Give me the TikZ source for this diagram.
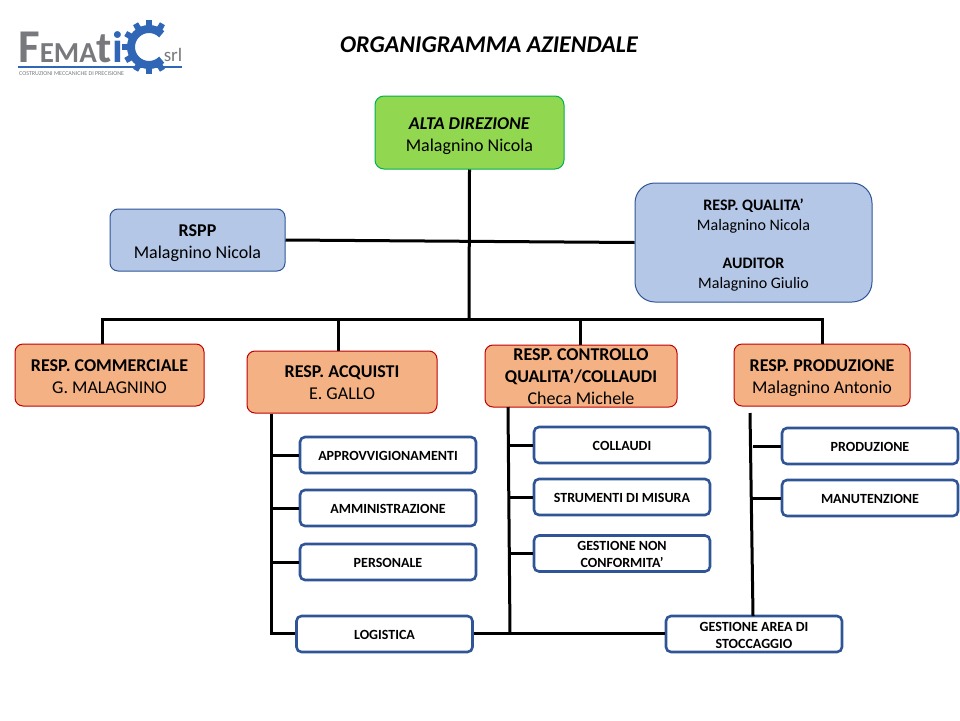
\documentclass[tikz,border=0pt]{standalone}
\usepackage{fontspec}
\setmainfont{Carlito}
\usepackage{tikz}
\usetikzlibrary{calc}
\definecolor{bluefill}{HTML}{B4C7E7}
\definecolor{blueline}{HTML}{2F5597}
\definecolor{orangefill}{HTML}{F4B183}
\definecolor{redline}{HTML}{C00000}
\definecolor{greenfill}{HTML}{92D750}
\definecolor{greenline}{HTML}{00B050}
\definecolor{logogrey}{HTML}{77797C}
\definecolor{logoblue}{HTML}{2F66B5}
\tikzset{
  lowered/.style={text height=#1, text depth=0pt},
  topbox/.style={draw=greenline, fill=greenfill, line width=1pt, rounded corners=9pt, align=center,
    minimum width=189pt, minimum height=73pt, inner sep=0pt, lowered=37pt, font=\fontsize{18}{22}\selectfont},
  staffbox/.style={draw=blueline, fill=bluefill, line width=1pt, align=center, inner sep=0pt},
  respbox/.style={draw=redline, fill=orangefill, line width=1pt, rounded corners=8pt, align=center,
    minimum height=62pt, inner sep=0pt, lowered=37pt, font=\fontsize{18}{22}\selectfont},
  taskbox/.style={draw=blueline, fill=white, line width=2.6pt, rounded corners=5pt, align=center,
    minimum width=176pt, minimum height=36pt, inner sep=0pt, lowered=11pt, font=\fontsize{14}{17}\selectfont\bfseries},
  conn/.style={draw=black, line width=3pt}
}
\begin{document}
\begin{tikzpicture}[x=1pt,y=-1pt]
  \useasboundingbox (0,0) rectangle (960,720);

  % Logo
  \node[font=\fontsize{47}{47}\selectfont\bfseries, text=logogrey, inner sep=0pt, anchor=base west] (logoname) at (18,62) {F\fontsize{29}{29}\selectfont EMA\fontsize{44}{44}\selectfont t\textcolor{logoblue}{i}};
  \coordinate (gearc) at (149,47);
  \foreach \a in {60,90,...,300}
    \fill[logoblue] ($(gearc)+(\a-9:20)$) -- ($(gearc)+(\a-6:27)$) -- ($(gearc)+(\a+6:27)$) -- ($(gearc)+(\a+9:20)$) -- cycle;
  \draw[logoblue, line width=8pt] ($(gearc)+(45:18)$) arc[start angle=45, end angle=315, radius=18];
  \node[font=\fontsize{19}{19}\selectfont, text=logogrey, inner sep=0pt] (logosrl) at (173,55) {srl};
  \draw[logoblue, line width=1.5pt] (18,67) -- (182,67);
  \node[font=\fontsize{6}{6}\selectfont, text=logogrey, inner sep=0pt, anchor=west] (logosub) at (19,74) {COSTRUZIONI MECCANICHE DI PRECISIONE};

  % Title
  \node[font=\fontsize{24}{28}\selectfont\bfseries\itshape, inner sep=0pt] (title) at (489,45) {ORGANIGRAMMA AZIENDALE};

  % Nodes
  \node[topbox] (alta) at (469.5,132.5) {\textbf{\textit{ALTA DIREZIONE}}\\Malagnino Nicola};
  \node[staffbox, rounded corners=8pt, minimum width=175pt, minimum height=62pt, lowered=37pt, font=\fontsize{18}{22}\selectfont] (rspp) at (197.5,240) {\textbf{RSPP}\\Malagnino Nicola};
  \node[staffbox, rounded corners=20pt, minimum width=237pt, minimum height=119pt, lowered=91pt, font=\fontsize{16}{20}\selectfont] (qualita) at (753.5,242.5) {\textbf{RESP. QUALITA’}\\Malagnino Nicola\\[18pt]\textbf{AUDITOR}\\Malagnino Giulio};

  \node[respbox, minimum width=189pt] (commerciale) at (109.5,375) {\textbf{RESP. COMMERCIALE}\\G. MALAGNINO};
  \node[respbox, minimum width=190pt, lowered=35pt] (acquisti) at (342,382) {\textbf{RESP. ACQUISTI}\\E. GALLO};
  \node[respbox, minimum width=192pt, lowered=56pt] (controllo) at (581,376) {\textbf{RESP. CONTROLLO}\\\textbf{QUALITA’/COLLAUDI}\\Checa Michele};
  \node[respbox, minimum width=176pt] (produzione) at (822,375) {\textbf{RESP. PRODUZIONE}\\Malagnino Antonio};

  \node[taskbox] (approvv) at (388,455) {APPROVVIGIONAMENTI};
  \node[taskbox] (amministr) at (388,508) {AMMINISTRAZIONE};
  \node[taskbox] (personale) at (388,562) {PERSONALE};
  \node[taskbox] (logistica) at (384.5,634) {LOGISTICA};
  \node[taskbox] (collaudi) at (622,445) {COLLAUDI};
  \node[taskbox] (strumenti) at (622,497) {STRUMENTI DI MISURA};
  \node[taskbox, lowered=28.5pt] (nonconf) at (622,553.5) {GESTIONE NON\\CONFORMITA’};
  \node[taskbox, lowered=28.5pt] (stoccaggio) at (754,634) {GESTIONE AREA DI\\STOCCAGGIO};
  \node[taskbox] (prodtask) at (870,446) {PRODUZIONE};
  \node[taskbox] (manut) at (870,498) {MANUTENZIONE};

  % Junctions
  \coordinate (busleft) at (102,319);
  \coordinate (busacq) at (338,319);
  \coordinate (busmid) at (469,319);
  \coordinate (buscon) at (580,319);
  \coordinate (busright) at (822,319);
  \coordinate (acqline) at (271,633);
  \coordinate (conline) at (510,633);
  \coordinate (contop) at (508,407);
  \coordinate (prodtop) at (750,413);
  \coordinate (prodend) at (753,616);

  % Edges
  \draw[conn] (alta.south) -- (busmid);
  \draw[conn] (rspp.east) -- (qualita.west);
  \draw[conn, line cap=rect] (busleft) -- (busright);
  \draw[conn] (busleft) -- (busleft |- commerciale.north);
  \draw[conn] (busacq) -- (busacq |- acquisti.north);
  \draw[conn] (buscon) -- (buscon |- controllo.north);
  \draw[conn] (busright) -- (busright |- produzione.north);

  \draw[conn] (acqline |- acquisti.south) -- (acqline) -- (logistica.west |- acqline);
  \draw[conn] (acqline |- approvv.west) -- (approvv.west);
  \draw[conn] (acqline |- amministr.west) -- (amministr.west);
  \draw[conn] (acqline |- personale.west) -- (personale.west);

  \draw[conn] (contop) -- (conline);
  \draw[conn] (contop |- collaudi.west) -- (collaudi.west);
  \draw[conn] (contop |- strumenti.west) -- (strumenti.west);
  \draw[conn] (contop |- nonconf.west) -- (nonconf.west);
  \draw[conn] (logistica.east |- conline) -- (stoccaggio.west |- conline);

  \draw[conn] (prodtop) -- (prodend);
  \draw[conn] (prodend |- prodtask.west) -- (prodtask.west);
  \draw[conn] (prodend |- manut.west) -- (manut.west);
\end{tikzpicture}
\end{document}
